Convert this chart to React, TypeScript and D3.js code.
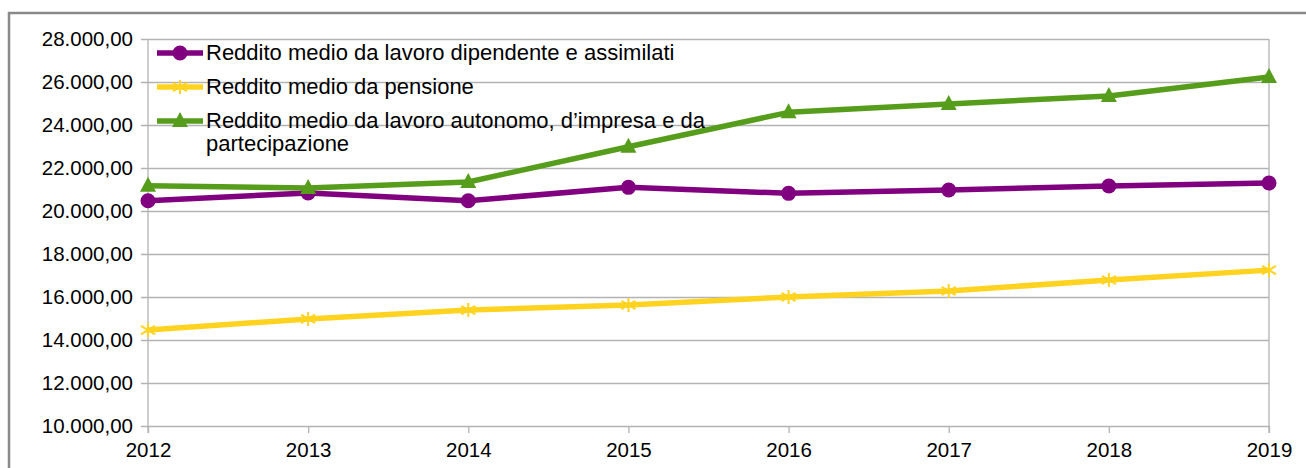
import { useEffect, useRef } from "react";
import * as d3 from "d3";

const years = ["2012", "2013", "2014", "2015", "2016", "2017", "2018", "2019"];
const dipendente = [20480, 20840, 20480, 21100, 20820, 20980, 21160, 21300];
const pensione = [14460, 14980, 15390, 15630, 16000, 16280, 16790, 17250];
const autonomo = [21180, 21070, 21350, 22990, 24590, 24980, 25350, 26230];
const yTicks = [10000, 12000, 14000, 16000, 18000, 20000, 22000, 24000, 26000, 28000];

const seriesNames = [
  ["Reddito medio da lavoro dipendente e assimilati"],
  ["Reddito medio da pensione"],
  ["Reddito medio da lavoro autonomo, d\u2019impresa e da", "partecipazione"],
];
const colors = ["#800080", "#ffd320", "#579d1c"];
const markers = ["circle", "star", "triangle"];

export default function App() {
  const ref = useRef<SVGSVGElement>(null);

  useEffect(() => {
    const W = 1306;
    const H = 468;
    const margin = { top: 39, right: 37, bottom: 42, left: 148 };
    const width = W - margin.left - margin.right;
    const height = H - margin.top - margin.bottom;

    const root = d3.select(ref.current);
    root.selectAll("*").remove();
    root.attr("width", W).attr("height", H).style("font-family", "'Liberation Sans', Arial, sans-serif");

    // рамка вокруг всего графика
    root
      .append("rect")
      .attr("x", 9)
      .attr("y", 13)
      .attr("width", W + 20)
      .attr("height", H + 20)
      .attr("fill", "none")
      .attr("stroke", "#8a8a8a")
      .attr("stroke-width", 2.5);

    const svg = root.append("g").attr("transform", `translate(${margin.left},${margin.top})`);

    const x = d3.scalePoint().domain(years).range([0, width]);
    const y = d3.scaleLinear().domain([10000, 28000]).range([height, 0]);

    const it = d3.formatLocale({ decimal: ",", thousands: ".", grouping: [3], currency: ["", "\u20ac"] });
    const fmt = it.format(",.2f");

    // сетка и ось Y
    const yAxis = svg
      .append("g")
      .call(d3.axisLeft(y).tickValues(yTicks).tickSize(-width - 7).tickFormat((d) => fmt(d as number)).tickPadding(8))
      .attr("transform", "translate(-7,0)");
    yAxis.select(".domain").remove();
    yAxis.selectAll(".tick line").attr("stroke", "#b3b3b3").attr("stroke-width", 1.3);
    yAxis.selectAll(".tick text").attr("font-size", 20.5).attr("fill", "#000").attr("font-family", "'Liberation Sans', Arial, sans-serif");

    svg.append("line").attr("x1", 0).attr("x2", 0).attr("y1", 0).attr("y2", height + 7).attr("stroke", "#b3b3b3").attr("stroke-width", 1.3);
    svg.append("line").attr("x1", width).attr("x2", width).attr("y1", 0).attr("y2", height + 7).attr("stroke", "#b3b3b3").attr("stroke-width", 1.3);

    // ось X
    const xAxis = svg
      .append("g")
      .attr("transform", `translate(0,${height})`)
      .call(d3.axisBottom(x).tickSize(7).tickPadding(9));
    xAxis.select(".domain").remove();
    xAxis.selectAll(".tick line").attr("stroke", "#b3b3b3").attr("stroke-width", 1.3);
    xAxis.selectAll(".tick text").attr("font-size", 20.5).attr("fill", "#000").attr("font-family", "'Liberation Sans', Arial, sans-serif");

    const drawMarker = (g: any, type: string, cx: number, cy: number, color: string) => {
      if (type === "circle") {
        g.append("circle").attr("cx", cx).attr("cy", cy).attr("r", 7.5).attr("fill", color);
      } else if (type === "triangle") {
        g.append("path")
          .attr("d", `M${cx},${cy - 9} L${cx + 8},${cy + 6} L${cx - 8},${cy + 6} Z`)
          .attr("fill", color);
      } else {
        const s = 7;
        g.append("path")
          .attr("d", `M${cx},${cy - s} V${cy + s} M${cx - s},${cy - s * 0.6} L${cx + s},${cy + s * 0.6} M${cx - s},${cy + s * 0.6} L${cx + s},${cy - s * 0.6}`)
          .attr("stroke", color)
          .attr("stroke-width", 2)
          .attr("fill", "none");
      }
    };

    const allSeries = [dipendente, pensione, autonomo];
    const line = d3
      .line<number>()
      .x((_, i) => x(years[i]) as number)
      .y((d) => y(d));

    // порядок отрисовки: пенсия, зависимый, автономный
    [1, 0, 2].forEach((si) => {
      const data = allSeries[si];
      const g = svg.append("g");
      g.append("path").attr("d", line(data)).attr("fill", "none").attr("stroke", colors[si]).attr("stroke-width", 5.5).attr("stroke-linejoin", "round");
      data.forEach((v, i) => drawMarker(g, markers[si], x(years[i]) as number, y(v), colors[si]));
    });

    // легенда
    const legendY = [53, 87, 121];
    const legend = root.append("g");
    seriesNames.forEach((lines, i) => {
      const ly = legendY[i];
      legend.append("line").attr("x1", 157).attr("x2", 203).attr("y1", ly).attr("y2", ly).attr("stroke", colors[i]).attr("stroke-width", 5.5);
      drawMarker(legend, markers[i], 180, ly, colors[i]);
      const t = legend
        .append("text")
        .attr("x", 206)
        .attr("y", ly + 7)
        .attr("font-size", 22)
        .attr("fill", "#000");
      lines.forEach((s, k) => {
        t.append("tspan").attr("x", 206).attr("dy", k === 0 ? 0 : 23).text(s);
      });
    });
  }, []);

  return (
    <div style={{ position: "fixed", left: 0, top: 0 }}>
      <svg ref={ref} style={{ display: "block", background: "#fff" }} />
    </div>
  );
}
